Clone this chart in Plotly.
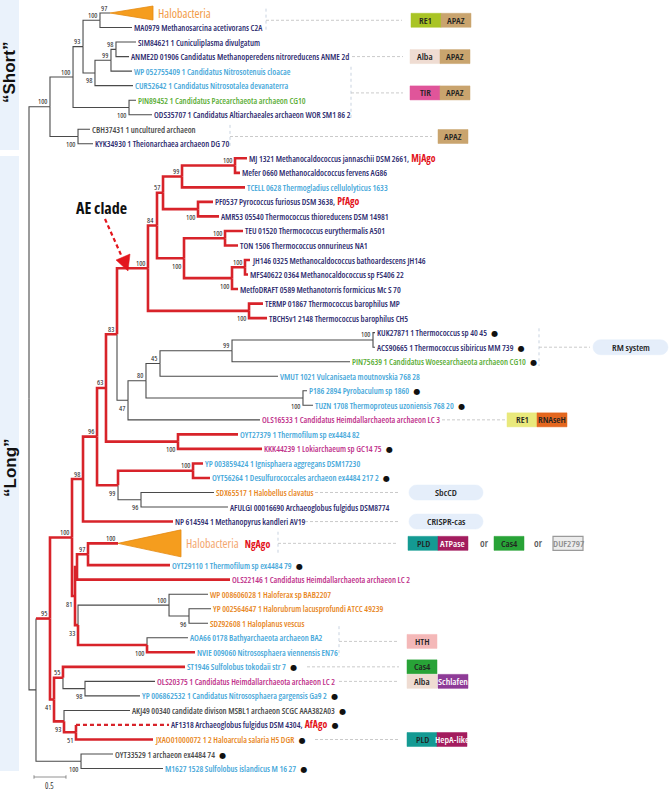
import plotly.graph_objects as go

W, H = 669, 791

# ============================ DATA ===================================
# tree edges: (node, parent, depth from root [subst./site], bootstrap)
TREE = [
    ("S", "R", 0.328, 100), ("S1", "S", 0.688, 100), ("S2", "S1", 0.844, 93),
    ("S3", "S2", 1.109, 100), ("HaloS", "S3", 1.266, 97), ("MA0979", "S3", 1.609, None),
    ("S4", "S2", 1.031, 98), ("S5", "S4", 1.281, 99), ("S6", "S5", 1.359, 98),
    ("SIM84621", "S6", 1.672, None), ("ANME2D", "S6", 1.563, None),
    ("WP052755409", "S5", 1.609, None), ("CUR52642", "S4", 1.625, None),
    ("S7", "S1", 1.563, 100), ("PIN89452", "S7", 1.672, None), ("ODS35707", "S7", 1.922, None),
    ("S8", "S", 0.766, 100), ("CBH37431", "S8", 0.953, None), ("KYK34930", "S8", 1.0, None),
    ("L", "R", 0.109, None), ("L1", "L", 0.328, 95), ("L2", "L1", 0.672, 100),
    ("L3", "L2", 0.844, 98), ("L4", "L3", 1.063, 96), ("L5", "L4", 1.203, 63),
    ("L6", "L5", 1.375, 83), ("AE", "L6", 1.859, 100), ("A1", "AE", 2.0, 84),
    ("A2", "A1", 2.094, 57), ("A3", "A2", 2.391, 99), ("A4", "A3", 3.219, 100),
    ("MJ1321", "A4", 3.406, None), ("Mefer0660", "A4", 3.297, None),
    ("TCELL0628", "A3", 3.375, None), ("A5", "A2", 2.641, 100),
    ("PF0537", "A5", 2.875, None), ("AMR53", "A5", 2.969, None),
    ("A6", "A1", 2.422, 100), ("A7", "A6", 3.063, 100),
    ("TEU01520", "A7", 3.344, None), ("TON1506", "A7", 3.266, None),
    ("A8", "A6", 3.172, 100), ("A9", "A8", 3.375, 100),
    ("JH146", "A9", 3.453, None), ("MFS40622", "A9", 3.422, None),
    ("MetfoDRAFT", "A8", 3.266, None), ("A10", "AE", 3.438, 100),
    ("TERMP01867", "A10", 3.656, None), ("TBCH5v1", "A10", 3.719, None),
    ("L7", "L6", 1.547, 47), ("L8", "L7", 1.828, 80), ("L9", "L8", 2.047, 45),
    ("L10", "L9", 3.172, 99), ("L11", "L10", 5.375, 100),
    ("KUK27871", "L11", 5.406, None), ("ACS90665", "L11", 5.406, None),
    ("PIN75639", "L10", 5.016, None), ("VMUT1021", "L9", 3.891, None),
    ("L12", "L8", 4.281, 100), ("P186", "L12", 4.344, None), ("TUZN1708", "L12", 4.438, None),
    ("OLS16533", "L7", 3.609, None), ("L13", "L5", 2.328, 100),
    ("OYT27379", "L13", 3.266, None), ("KKK44239", "L13", 3.641, None),
    ("L14", "L4", 1.391, 99), ("L15", "L14", 2.563, 100),
    ("YP003859424", "L15", 2.719, None), ("OYT56264", "L15", 2.828, None),
    ("L16", "L14", 1.75, 96), ("SDX65517", "L16", 2.891, None), ("AFULGI", "L16", 3.109, None),
    ("NP614594", "L3", 2.25, None), ("L17", "L2", 0.719, 81), ("L18", "L17", 0.75, None),
    ("L19", "L18", 0.922, 97), ("HaloL", "L19", 1.391, 100), ("OYT29110", "L19", 2.203, None),
    ("OLS22146", "L18", 3.141, None), ("L20", "L17", 0.766, 33), ("L21", "L20", 2.188, 100),
    ("WP008606028", "L21", 2.797, None), ("L22", "L21", 2.5, 96),
    ("YP002564647", "L22", 2.844, None), ("SDZ92608", "L22", 2.797, None),
    ("L23", "L20", 1.844, 100), ("AOA66", "L23", 2.484, None), ("NVIE", "L23", 2.594, None),
    ("L24", "L1", 0.391, 41), ("L25", "L24", 0.531, 55), ("ST1946", "L25", 2.438, None),
    ("L26", "L25", 0.875, 98), ("OLS20375", "L26", 1.969, None), ("YP006862532", "L26", 1.734, None),
    ("L27", "L24", 0.547, 93), ("AKJ49", "L27", 1.578, None), ("L28", "L27", 0.734, 51),
    ("AF1318", "L28", 2.188, None), ("JXAO", "L28", 1.938, None),
    ("L29", "L", 0.813, 100), ("OYT33529", "L29", 1.313, None), ("M1627", "L29", 2.094, None),
]

LEAF_IDS = ["HaloS", "MA0979", "SIM84621", "ANME2D", "WP052755409", "CUR52642", "PIN89452",
            "ODS35707", "CBH37431", "KYK34930", "MJ1321", "Mefer0660", "TCELL0628", "PF0537",
            "AMR53", "TEU01520", "TON1506", "JH146", "MFS40622", "MetfoDRAFT", "TERMP01867",
            "TBCH5v1", "KUK27871", "ACS90665", "PIN75639", "VMUT1021", "P186", "TUZN1708",
            "OLS16533", "OYT27379", "KKK44239", "YP003859424", "OYT56264", "SDX65517", "AFULGI",
            "NP614594", "HaloL", "OYT29110", "OLS22146", "WP008606028", "YP002564647",
            "SDZ92608", "AOA66", "NVIE", "ST1946", "OLS20375", "YP006862532", "AKJ49",
            "AF1318", "JXAO", "OYT33529", "M1627"]
LEAF_ROWS = [0, 1, 2, 3, 4, 5, 6, 7, 8, 9, 10, 11, 12, 13, 14, 15, 16, 17, 18, 19, 20, 21,
             22, 23, 24, 25, 26, 27, 28, 29, 30, 31, 32, 33, 34, 35, 36.5, 38, 39, 40, 41,
             42, 43, 44, 45, 46, 47, 48, 49, 50, 51, 52]
LEAF_LABELS = [
    "Halobacteria", "MA0979 Methanosarcina acetivorans C2A", "SIM84621 1 Cuniculiplasma divulgatum",
    "ANME2D 01906 Candidatus Methanoperedens nitroreducens ANME 2d",
    "WP 052755409 1 Candidatus Nitrosotenuis cloacae", "CUR52642 1 Candidatus Nitrosotalea devanaterra",
    "PIN89452 1 Candidatus Pacearchaeota archaeon CG10",
    "ODS35707 1 Candidatus Altiarchaeales archaeon WOR SM1 86 2", "CBH37431 1 uncultured archaeon",
    "KYK34930 1 Theionarchaea archaeon DG 70", "MJ 1321 Methanocaldococcus jannaschii DSM 2661,",
    "Mefer 0660 Methanocaldococcus fervens AG86", "TCELL 0628 Thermogladius cellulolyticus 1633",
    "PF0537 Pyrococcus furiosus DSM 3638,", "AMR53 05540 Thermococcus thioreducens DSM 14981",
    "TEU 01520 Thermococcus eurythermalis A501", "TON 1506 Thermococcus onnurineus NA1",
    "JH146 0325 Methanocaldococcus bathoardescens JH146", "MFS40622 0364 Methanocaldococcus sp FS406 22",
    "MetfoDRAFT 0589 Methanotorris formicicus Mc S 70", "TERMP 01867 Thermococcus barophilus MP",
    "TBCH5v1 2148 Thermococcus barophilus CH5", "KUK27871 1 Thermococcus sp 40 45",
    "ACS90665 1 Thermococcus sibiricus MM 739", "PIN75639 1 Candidatus Woesearchaeota archaeon CG10",
    "VMUT 1021 Vulcanisaeta moutnovskia 768 28", "P186 2894 Pyrobaculum sp 1860",
    "TUZN 1708 Thermoproteus uzoniensis 768 20", "OLS16533 1 Candidatus Heimdallarchaeota archaeon LC 3",
    "OYT27379 1 Thermofilum sp ex4484 82", "KKK44239 1 Lokiarchaeum sp GC14 75",
    "YP 003859424 1 Ignisphaera aggregans DSM17230", "OYT56264 1 Desulfurococcales archaeon ex4484 217 2",
    "SDX65517 1 Halobellus clavatus", "AFULGI 00016690 Archaeoglobus fulgidus DSM8774",
    "NP 614594 1 Methanopyrus kandleri AV19", "Halobacteria", "OYT29110 1 Thermofilum sp ex4484 79",
    "OLS22146 1 Candidatus Heimdallarchaeota archaeon LC 2", "WP 008606028 1 Haloferax sp BAB2207",
    "YP 002564647 1 Halorubrum lacusprofundi ATCC 49239", "SDZ92608 1 Haloplanus vescus",
    "AOA66 0178 Bathyarchaeota archaeon BA2", "NVIE 009060 Nitrososphaera viennensis EN76",
    "ST1946 Sulfolobus tokodaii str 7", "OLS20375 1 Candidatus Heimdallarchaeota archaeon LC 2",
    "YP 006862532 1 Candidatus Nitrososphaera gargensis Ga9 2",
    "AKJ49 00340 candidate divison MSBL1 archaeon SCGC AAA382A03",
    "AF1318 Archaeoglobus fulgidus DSM 4304,", "JXAO01000072 1 2 Haloarcula salaria H5 DGR",
    "OYT33529 1 archaeon ex4484 74", "M1627 1528 Sulfolobus islandicus M 16 27"]
LEAF_GROUPS = ["halo", "navy", "navy", "navy", "sky", "sky", "green", "navy", "gray", "navy",
               "navy", "navy", "sky", "navy", "navy", "navy", "navy", "navy", "navy", "navy",
               "navy", "navy", "navy", "navy", "green", "sky", "sky", "sky", "magenta", "sky",
               "magenta", "sky", "sky", "orange", "navy", "navy", "halo2", "sky", "magenta",
               "orange", "orange", "orange", "sky", "sky", "sky", "magenta", "sky", "gray",
               "navy", "orange", "gray", "sky"]
AGO_TAGS = {"MJ1321": "MjAgo", "PF0537": "PfAgo", "HaloL": "NgAgo", "AF1318": "AfAgo"}
DOT_LEAVES = ["KUK27871", "ACS90665", "PIN75639", "P186", "TUZN1708", "KKK44239", "OYT56264",
              "OYT29110", "ST1946", "YP006862532", "AKJ49", "AF1318", "JXAO", "OYT33529", "M1627"]
# collapsed clades: depth of the triangle base, half height (rows)
COLLAPSED = {"HaloS": (1.938, 0.48), "HaloL": (2.375, 0.93)}
RED_CLADES = ["AE"]
RED_EDGES = ["L1", "L2", "L3", "L4", "L5", "L6", "L13", "OYT27379", "KKK44239", "L14", "L15",
             "YP003859424", "OYT56264", "NP614594", "L17", "L18", "L19", "HaloL", "OYT29110",
             "OLS22146", "L20", "L23", "NVIE", "L24", "L25", "ST1946", "L27", "L28", "AF1318", "JXAO"]
DASHED_EDGES = ["AF1318"]
SCALE_BAR = 0.5

# domain architecture annotations: (leaf-row span, bracket?, connector x0/x1 px, items)
DOMAINS = [
    ((0, 1), True, 266, 402, [("box", 411, "RE1"), ("box", 441, "APAZ")]),
    ((3, 3), False, 352, 403, [("box", 410, "Alba"), ("box", 440, "APAZ")]),
    ((4, 7), True, 351, 403, [("box", 410, "TIR"), ("box", 440, "APAZ")]),
    ((8, 9), True, 230, 432, [("box", 438, "APAZ")]),
    ((22, 24), True, 539, 590, [("pill", 593, "RM system")]),
    ((28, 28), False, 442, 505, [("box", 507, "RE1 "), ("box", 537, "RNAseH")]),
    ((33, 33), False, 315, 399, [("pill", 409, "SbcCD")]),
    ((35, 35), False, 305, 399, [("pill", 409, "CRISPR-cas")]),
    ((36, 37), True, 278, 397, [("box", 408, "PLD"), ("box", 438, "ATPase"), ("or", 484, "or"),
                                 ("box", 494, "Cas4"), ("or", 538, "or"), ("box", 553, "DUF2797")]),
    ((42.5, 44), True, 339, 399, [("box", 407, "HTH")]),
    ((45, 45), False, 307, 399, [("box", 407, "Cas4")]),
    ((46, 46), False, 339, 399, [("box", 407, "Alba"), ("box", 438, "Schlafen")]),
    ((50, 50), False, 315, 399, [("box", 407, "PLD"), ("box", 437, "HepA-like")]),
]

# ============================ STYLE ==================================
FONT = "Open Sans, Liberation Sans, Arial, sans-serif"
SANS = "Liberation Sans, Arial, sans-serif"
GROUP_COL = {"navy": "#2c2a6e", "sky": "#45a7da", "green": "#5aad35", "gray": "#4a4a4a",
             "magenta": "#c0308a", "orange": "#e8861c", "halo": "#f29a45", "halo2": "#f4a66e"}
RED = "#d8232a"
BLACK = "#4a4a4a"
BOX_STYLE = {"RE1": ("#a9c425", "#222"), "APAZ": ("#c9a46e", "#222"), "Alba": ("#efdcd2", "#222"),
             "TIR": ("#e0559a", "#222"), "RE1 ": ("#e9e97c", "#222"), "RNAseH": ("#e4671f", "#222"),
             "PLD": ("#149a93", "#222"), "ATPase": ("#a31c5e", "#fff"), "Cas4": ("#28a337", "#222"),
             "DUF2797": ("#ececec", "#8c8c8c"), "HTH": ("#f4b8b8", "#222"),
             "Schlafen": ("#8e3b97", "#fff"), "HepA-like": ("#a31c5e", "#fff")}
ROW0_PX, ROW_PX = 13.0, 14.53           # pixel position of row 0 and row pitch
X0_PX, UNIT_PX = 29.0, 64.0             # root position and pixels per unit


def cond(text, size, color, weight=600):
    return ("<span style='font-stretch:75%%;font-weight:%d;font-size:%gpx;color:%s'>%s</span>"
            % (weight, size, color, text))


# ============================ BUILD ==================================
depth, parent, support, children = {"R": 0.0}, {}, {}, {}
for nid, par, d, b in TREE:
    depth[nid], parent[nid], support[nid] = d, par, b
    children.setdefault(par, []).append(nid)

ypos = dict(zip(LEAF_IDS, LEAF_ROWS))


def place(n):
    if n in ypos:
        return ypos[n]
    ys = [place(c) for c in children[n]]
    ypos[n] = (min(ys) + max(ys)) / 2
    return ypos[n]


place("R")

red = set(RED_EDGES)


def mark(n):
    red.add(n)
    for c in children.get(n, []):
        mark(c)


for c in RED_CLADES:
    mark(c)

bx, by, rx, ry, dx, dy = [], [], [], [], [], []
for n, p in parent.items():
    xp, yp, xn, yn = depth[p], ypos[p], depth[n], ypos[n]
    vred = (p in red) and (n in red)
    if n in DASHED_EDGES:
        (rx if vred else bx).extend([xp, xp, None]); (ry if vred else by).extend([yp, yn, None])
        dx += [xp, xn, None]; dy += [yn, yn, None]
    elif vred:
        rx += [xp, xp, xn, None]; ry += [yp, yn, yn, None]
    elif n in red:
        bx += [xp, xp, None]; by += [yp, yn, None]
        rx += [xp, xn, None]; ry += [yn, yn, None]
    else:
        bx += [xp, xp, xn, None]; by += [yp, yn, yn, None]

fig = go.Figure()
fig.add_trace(go.Scatter(x=bx, y=by, mode="lines", line=dict(color=BLACK, width=1.1),
                         hoverinfo="skip", showlegend=False))
fig.add_trace(go.Scatter(x=rx, y=ry, mode="lines", line=dict(color=RED, width=2.6),
                         hoverinfo="skip", showlegend=False))
fig.add_trace(go.Scatter(x=dx, y=dy, mode="lines", line=dict(color=RED, width=2.2, dash="4px,3px"),
                         hoverinfo="skip", showlegend=False))
for n, (base, hh) in COLLAPSED.items():
    t, y = depth[n], ypos[n]
    fig.add_trace(go.Scatter(x=[t, base, base, t], y=[y, y - hh, y + hh, y], mode="lines",
                             fill="toself", fillcolor="#f59d1e",
                             line=dict(color="#e58a12", width=0.8),
                             hoverinfo="skip", showlegend=False))

ann = []
DOT = "<span style='font-family:DejaVu Sans;font-size:8px;color:#111'>●</span>"
# leaf labels
for lid, lab, grp in zip(LEAF_IDS, LEAF_LABELS, LEAF_GROUPS):
    y = ypos[lid]
    if lid in COLLAPSED:
        txt = cond(lab, 12, GROUP_COL[grp], 400)
        if lid in AGO_TAGS:
            txt += "  " + cond(AGO_TAGS[lid], 10, "#e3131b", 700)
        ann.append(dict(x=COLLAPSED[lid][0], y=y, text=txt, xanchor="left", yanchor="middle",
                        xshift=3, showarrow=False, font=dict(family=FONT, size=12)))
        continue
    txt = cond(lab, 8.5, GROUP_COL[grp])
    if lid in AGO_TAGS:
        txt += " " + cond(AGO_TAGS[lid], 9.8, "#e3131b", 700)
    if lid in DOT_LEAVES:
        txt += "  " + DOT
    ann.append(dict(x=depth[lid], y=y, text=txt, xanchor="left", yanchor="middle", xshift=0,
                    showarrow=False, font=dict(family=FONT, size=8.5)))

# bootstrap values
for n, b in support.items():
    if b is None:
        continue
    above = ypos[n] <= ypos[parent[n]]
    ann.append(dict(x=depth[n], y=ypos[n], text=cond(str(b), 7.4, "#222", 500), xanchor="right",
                    yanchor="middle", xshift=-1, yshift=5.5 if above else -7.5, showarrow=False,
                    font=dict(family=FONT, size=7.4, color="#222")))

shapes = []


def P(px):
    return px / W


def rowy(py):
    return (py - ROW0_PX) / ROW_PX


BOX_W, BOX_H = 30, 14
for (r0, r1), bracket, lx0, lx1, items in DOMAINS:
    yc = (r0 + r1) / 2
    if bracket:
        shapes.append(dict(type="line", xref="paper", yref="y", x0=P(lx0), x1=P(lx0),
                           y0=r0 - 0.3, y1=r1 + 0.3, line=dict(color="#c9d3e0", width=1, dash="dot")))
    shapes.append(dict(type="line", xref="paper", yref="y", x0=P(lx0), x1=P(lx1), y0=yc, y1=yc,
                       line=dict(color="#c4c4c4", width=0.9, dash="3px,2px")))
    hr = BOX_H / 2 / ROW_PX
    for kind, x0, name in items:
        if kind == "box":
            fc, tc = BOX_STYLE[name]
            lc = "#9a9a9a" if name == "DUF2797" else fc
            shapes.append(dict(type="rect", xref="paper", yref="y", x0=P(x0), x1=P(x0 + BOX_W),
                               y0=yc - hr, y1=yc + hr, fillcolor=fc,
                               line=dict(color=lc, width=1.2 if name == "DUF2797" else 0.5)))
            ann.append(dict(x=P(x0 + BOX_W / 2), y=yc, xref="paper", yref="y",
                            text=cond(name.strip(), 9.6, tc), showarrow=False,
                            xanchor="center", yanchor="middle", font=dict(family=FONT, size=9.6)))
        elif kind == "or":
            ann.append(dict(x=P(x0), y=yc, xref="paper", yref="y", text=cond(name, 10, "#555"),
                            showarrow=False, xanchor="center", yanchor="middle",
                            font=dict(family=FONT, size=10)))
        else:
            x1 = x0 + (75 if name == "RM system" else 74)
            r = 7.5
            rr = r / ROW_PX
            k = 0.5523
            a, b_ = x0 + r, x1 - r
            path = ("M {a},{t} L {b},{t} C {b2},{t} {x1},{t2} {x1},{c} C {x1},{b3} {b2},{bo} {b},{bo} "
                    "L {a},{bo} C {a2},{bo} {x0},{b3} {x0},{c} C {x0},{t2} {a2},{t} {a},{t} Z").format(
                a=P(a), b=P(b_), b2=P(b_ + k * r), a2=P(a - k * r), x0=P(x0), x1=P(x1),
                t=yc - rr, bo=yc + rr, c=yc, t2=yc - k * rr, b3=yc + k * rr)
            shapes.append(dict(type="path", xref="paper", yref="y", path=path,
                               fillcolor="#e5eefa", line=dict(color="#e5eefa", width=0.5)))
            ann.append(dict(x=P((x0 + x1) / 2), y=yc, xref="paper", yref="y",
                            text=cond(name, 9.6, "#222"), showarrow=False, xanchor="center",
                            yanchor="middle", font=dict(family=FONT, size=9.6)))

# left clade bands
shapes.append(dict(type="rect", xref="paper", yref="paper", x0=0, x1=P(19), y0=1 - 150 / H, y1=1,
                   fillcolor="#eaf2fb", line=dict(width=0), layer="below"))
shapes.append(dict(type="rect", xref="paper", yref="paper", x0=0, x1=P(19), y0=1 - 771 / H,
                   y1=1 - 156 / H, fillcolor="#eaf2fb", line=dict(width=0), layer="below"))
ann.append(dict(x=P(10), y=1 - 73 / H, xref="paper", yref="paper", text="<b>“Short”</b>",
                textangle=-90, showarrow=False, xanchor="center", yanchor="middle",
                font=dict(family=SANS, size=17, color="#111")))
ann.append(dict(x=P(10), y=1 - 468 / H, xref="paper", yref="paper", text="<b>“Long”</b>",
                textangle=-90, showarrow=False, xanchor="center", yanchor="middle",
                font=dict(family=SANS, size=17, color="#111")))

# AE clade callout
ann.append(dict(x=P(101), y=rowy(208), xref="paper", yref="y", text=cond("AE clade", 16, "#111", 700),
                showarrow=False, xanchor="center", yanchor="middle", font=dict(family=FONT, size=16)))
shapes.append(dict(type="line", xref="paper", yref="y", x0=P(105), y0=rowy(219), x1=P(122),
                   y1=rowy(257), line=dict(color="#e3161d", width=2.2, dash="4px,3px")))
shapes.append(dict(type="path", xref="paper", yref="y",
                   path="M {},{} L {},{} L {},{} Z".format(P(128), rowy(271), P(116), rowy(260),
                                                           P(130), rowy(254)),
                   fillcolor="#e3161d", line=dict(color="#e3161d", width=0.5)))

# scale bar
sb_y = rowy(777)
fig.add_trace(go.Scatter(x=[0.078, 0.078 + SCALE_BAR, None, 0.078, 0.078, None,
                            0.078 + SCALE_BAR, 0.078 + SCALE_BAR],
                         y=[sb_y, sb_y, None, sb_y - 0.12, sb_y + 0.12, None, sb_y - 0.12, sb_y + 0.12],
                         mode="lines", line=dict(color="#777", width=0.8),
                         hoverinfo="skip", showlegend=False))
ann.append(dict(x=0.078 + SCALE_BAR / 2, y=sb_y, text=cond(str(SCALE_BAR), 8, "#333", 400),
                showarrow=False, yshift=-8, xanchor="center", yanchor="middle",
                font=dict(family=FONT, size=8)))

fig.update_layout(
    width=W, height=H, margin=dict(l=0, r=0, t=0, b=0),
    paper_bgcolor="white", plot_bgcolor="white",
    xaxis=dict(range=[-X0_PX / UNIT_PX, (W - X0_PX) / UNIT_PX], visible=False, fixedrange=True),
    yaxis=dict(range=[(H - ROW0_PX) / ROW_PX, -ROW0_PX / ROW_PX], visible=False, fixedrange=True),
    annotations=ann, shapes=shapes, showlegend=False,
)
fig.write_html("out.html", config={"displayModeBar": False},
               post_script="document.body.style.margin='0';")
